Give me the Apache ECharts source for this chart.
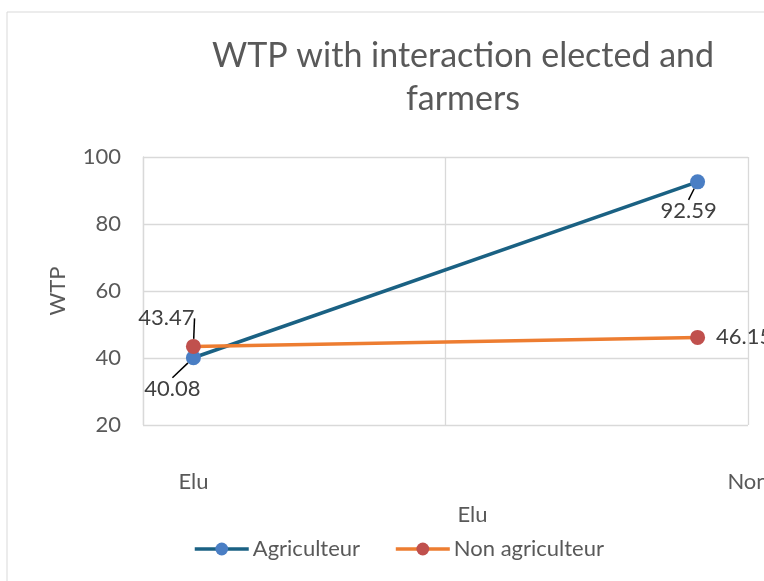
<!DOCTYPE html>
<html><head><meta charset="utf-8">
<script src="https://cdn.jsdelivr.net/npm/echarts@6/dist/echarts.min.js"></script>
<style>html,body{margin:0;padding:0;background:#fff}#c{width:764px;height:581px}</style>
</head><body><div id="c"></div>
<script>
const titleText = 'WTP with interaction elected and\nfarmers';
const xLabels = ['Elu', 'Non'];
const xPositions = [1, 2];
const agriculteur = [40.08, 92.59];
const nonAgriculteur = [43.47, 46.15];
const seriesNames = ['Agriculteur', 'Non agriculteur'];
const yTicks = [20, 40, 60, 80, 100];

const FONT = 'Lato';
const FS = 22;
const chart = echarts.init(document.getElementById('c'));
const offsets = [
  [[-21, 31], [-9, 29]],
  [[-27, -28], [0, 0]]
];
chart.setOption({
  animation: false,
  textStyle: {fontFamily: FONT},
  graphic: [{type: 'rect', shape: {x: 7, y: 12, width: 800, height: 600}, style: {fill: 'none', stroke: '#d9d9d9', lineWidth: 1}}],
  title: {text: titleText, left: 458, textAlign: 'center', top: 30,
    textStyle: {fontFamily: FONT, fontSize: 34, fontWeight: 'normal', color: '#595959', lineHeight: 43}},
  grid: {left: 143, right: 16, top: 157, bottom: 156, containLabel: false, outerBoundsMode: 'none'},
  legend: {bottom: 16, left: 188, itemWidth: 54, itemHeight: 16, itemGap: 34,
    lineStyle: {width: 3.5},
    textStyle: {fontFamily: FONT, fontSize: FS, color: '#595959', padding: [0, 0, 0, -1]}},
  xAxis: [{
    type: 'value', min: 0.9, max: 2.1,
    splitLine: {show: false}, axisLine: {show: false}, axisTick: {show: false},
    axisLabel: {customValues: [xPositions[0], 2.1], margin: 46, fontSize: FS, color: '#595959', fontFamily: FONT,
      formatter: v => (Math.abs(v - xPositions[0]) < 1e-6 ? xLabels[0] : xLabels[1])},
    name: xLabels[0], nameLocation: 'middle', nameGap: 79,
    nameTextStyle: {fontSize: FS, color: '#595959', fontFamily: FONT, padding: [0, 0, 0, 54]}
  }, {
    type: 'value', min: 0, max: 2, interval: 1, position: 'bottom',
    axisLine: {show: false}, axisTick: {show: false}, axisLabel: {show: false},
    splitLine: {show: true, lineStyle: {color: '#d9d9d9', width: 1.3}}
  }],
  yAxis: {
    type: 'value', min: 20, max: 100, interval: 20,
    axisLine: {show: true, lineStyle: {color: '#d9d9d9', width: 1.3}}, axisTick: {show: false},
    axisLabel: {fontSize: FS, color: '#595959', margin: 22, fontFamily: FONT},
    splitLine: {lineStyle: {color: '#d9d9d9', width: 1.3}},
    name: 'WTP', nameLocation: 'middle', nameGap: 74, nameRotate: 90,
    nameTextStyle: {fontSize: FS, color: '#595959', fontFamily: FONT}
  },
  series: [
    {name: seriesNames[0], type: 'line', xAxisIndex: 0,
      data: xPositions.map((x, i) => [x, agriculteur[i]]),
      symbol: 'circle', symbolSize: 15,
      lineStyle: {color: '#1a6183', width: 3.5},
      itemStyle: {color: '#4a7ec4'},
      label: {show: true, position: 'inside', fontSize: FS, color: '#404040', fontFamily: FONT,
        formatter: p => p.value[1].toFixed(2)},
      labelLine: {show: true, lineStyle: {color: '#000', width: 1.5}},
      labelLayout: p => ({dx: offsets[0][p.dataIndex][0], dy: offsets[0][p.dataIndex][1]})
    },
    {name: seriesNames[1], type: 'line', xAxisIndex: 0,
      symbol: 'circle', symbolSize: 15,
      lineStyle: {color: '#ed7d31', width: 3.5},
      itemStyle: {color: '#c0504d'},
      label: {show: true, position: 'inside', fontSize: FS, color: '#404040', fontFamily: FONT,
        formatter: p => p.value[1].toFixed(2)},
      data: xPositions.map((x, i) => i === 1
        ? {value: [x, nonAgriculteur[i]], label: {position: 'right', distance: 11}, labelLine: {show: false}}
        : {value: [x, nonAgriculteur[i]]}),
      labelLine: {show: true, lineStyle: {color: '#000', width: 1.5}},
      labelLayout: p => ({dx: offsets[1][p.dataIndex][0], dy: offsets[1][p.dataIndex][1]})
    }
  ]
});
</script></body></html>
